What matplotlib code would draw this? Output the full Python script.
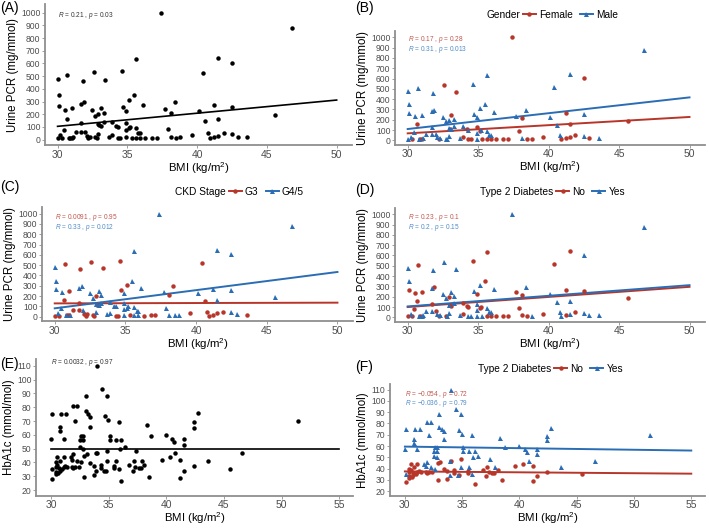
import matplotlib
matplotlib.use('Agg')
import matplotlib.pyplot as plt
from matplotlib.lines import Line2D

plt.rcParams['font.family'] = ['Liberation Sans', 'DejaVu Sans']
plt.rcParams['mathtext.fontset'] = 'custom'
plt.rcParams['mathtext.rm'] = 'Liberation Sans'
plt.rcParams['mathtext.it'] = 'Liberation Sans:italic'

# ---- urine PCR cohort (panels A-D): BMI, PCR, gender, CKD stage, T2D ----
pcr_bmi = [30.0, 30.1, 30.1, 30.0, 30.2, 30.3, 30.45, 30.5, 30.65, 30.7,
           30.8, 30.9, 31.0, 31.1, 31.0, 31.3, 31.7, 31.7, 31.7, 31.8,
           31.9, 32.0, 32.1, 32.2, 32.3, 32.5, 32.6, 32.7, 32.7, 32.8,
           32.9, 32.9, 32.9, 33.0, 33.1, 33.1, 33.3, 33.3, 33.4, 33.7,
           33.9, 33.9, 34.2, 34.3, 34.3, 34.5, 34.6, 34.7, 34.9, 34.9,
           34.9, 35.1, 35.1, 35.2, 34.9, 35.3, 35.5, 35.6, 35.6, 35.6,
           35.8, 35.9, 35.9, 36.1, 36.3, 36.8, 37.1, 37.4, 37.7, 37.9,
           38.1, 38.1, 38.4, 38.5, 38.8, 39.6, 40.1, 40.4, 40.6, 40.8,
           40.9, 41.2, 41.2, 41.5, 41.5, 41.5, 41.9, 42.5, 42.5, 42.5,
           42.9, 43.6, 45.6, 46.8]
pcr_value = [478, 349, 265, 10, 37, 10, 80, 236, 160, 512,
             15, 15, 15, 20, 249, 63, 60, 128, 281, 459,
             299, 60, 29, 10, 24, 231, 533, 184, 18, 10,
             121, 200, 45, 115, 110, 249, 136, 207, 470, 24,
             34, 142, 108, 102, 10, 10, 543, 260, 228, 128,
             76, 312, 89, 102, 18, 12, 349, 633, 92, 15,
             55, 55, 13, 276, 10, 15, 15, 1000, 241, 87,
             214, 21, 299, 15, 18, 34, 228, 522, 150, 50,
             10, 21, 270, 643, 163, 31, 50, 257, 606, 45,
             24, 21, 192, 877]
pcr_gender = ['Male', 'Male', 'Male', 'Male', 'Male', 'Female', 'Male', 'Male', 'Female', 'Male',
              'Male', 'Female', 'Female', 'Male', 'Male', 'Male', 'Male', 'Male', 'Male', 'Male',
              'Male', 'Male', 'Male', 'Female', 'Male', 'Male', 'Female', 'Male', 'Male', 'Male',
              'Male', 'Male', 'Male', 'Female', 'Male', 'Female', 'Male', 'Male', 'Female', 'Male',
              'Female', 'Male', 'Female', 'Male', 'Female', 'Female', 'Male', 'Male', 'Male', 'Female',
              'Male', 'Male', 'Female', 'Male', 'Male', 'Female', 'Male', 'Male', 'Male', 'Female',
              'Male', 'Male', 'Female', 'Male', 'Female', 'Female', 'Female', 'Female', 'Male', 'Female',
              'Female', 'Male', 'Male', 'Female', 'Female', 'Female', 'Male', 'Male', 'Male', 'Male',
              'Female', 'Female', 'Female', 'Male', 'Female', 'Female', 'Female', 'Male', 'Female', 'Male',
              'Female', 'Male', 'Female', 'Male']
pcr_ckd = ['G4/5', 'G4/5', 'G4/5', 'G3', 'G4/5', 'G3', 'G4/5', 'G4/5', 'G3', 'G3',
           'G4/5', 'G3', 'G3', 'G4/5', 'G3', 'G3', 'G3', 'G3', 'G4/5', 'G3',
           'G4/5', 'G4/5', 'G3', 'G3', 'G3', 'G4/5', 'G3', 'G4/5', 'G3', 'G3',
           'G4/5', 'G3', 'G4/5', 'G3', 'G4/5', 'G4/5', 'G4/5', 'G4/5', 'G3', 'G4/5',
           'G4/5', 'G4/5', 'G4/5', 'G4/5', 'G3', 'G3', 'G3', 'G3', 'G4/5', 'G4/5',
           'G4/5', 'G3', 'G4/5', 'G4/5', 'G4/5', 'G3', 'G4/5', 'G4/5', 'G4/5', 'G4/5',
           'G4/5', 'G4/5', 'G4/5', 'G4/5', 'G3', 'G3', 'G3', 'G4/5', 'G4/5', 'G4/5',
           'G3', 'G4/5', 'G3', 'G4/5', 'G4/5', 'G3', 'G4/5', 'G3', 'G3', 'G3',
           'G3', 'G3', 'G4/5', 'G4/5', 'G4/5', 'G3', 'G3', 'G4/5', 'G4/5', 'G4/5',
           'G4/5', 'G3', 'G4/5', 'G4/5']
pcr_t2d = ['Yes', 'Yes', 'No', 'No', 'Yes', 'No', 'No', 'No', 'No', 'No',
           'Yes', 'No', 'Yes', 'Yes', 'No', 'Yes', 'Yes', 'No', 'Yes', 'Yes',
           'No', 'No', 'Yes', 'No', 'Yes', 'Yes', 'Yes', 'Yes', 'No', 'Yes',
           'Yes', 'No', 'Yes', 'No', 'No', 'Yes', 'Yes', 'Yes', 'Yes', 'Yes',
           'No', 'No', 'No', 'No', 'Yes', 'Yes', 'No', 'Yes', 'No', 'Yes',
           'Yes', 'Yes', 'No', 'No', 'Yes', 'Yes', 'No', 'No', 'Yes', 'No',
           'Yes', 'Yes', 'No', 'Yes', 'No', 'No', 'No', 'Yes', 'No', 'No',
           'No', 'No', 'Yes', 'No', 'Yes', 'No', 'Yes', 'No', 'Yes', 'Yes',
           'Yes', 'No', 'No', 'No', 'Yes', 'Yes', 'No', 'No', 'Yes', 'Yes',
           'Yes', 'Yes', 'No', 'Yes']

# ---- HbA1c cohort (panels E-F): BMI, HbA1c, T2D ----
hb_bmi = [34.0, 34.45, 33.0, 34.9, 31.9, 32.3, 30.1, 30.9, 31.3, 33.0,
          33.2, 33.4, 34.7, 34.95, 35.9, 32.1, 30.8, 30.8, 33.4, 40.0,
          38.3, 38.7, 42.75, 42.4, 42.4, 51.4, 30.0, 31.1, 32.6, 32.8,
          32.5, 32.8, 35.1, 35.1, 35.6, 36.1, 36.4, 35.95, 32.5, 32.8,
          40.5, 40.7, 41.5, 41.5, 40.8, 46.6, 31.9, 31.7, 30.5, 31.1,
          33.1, 32.9, 33.9, 34.0, 34.9, 37.4, 39.6, 40.3, 41.2, 43.6,
          30.8, 31.8, 32.3, 32.6, 33.4, 34.9, 35.6, 37.2, 37.9, 30.4,
          30.5, 30.4, 30.7, 31.2, 31.1, 31.4, 31.9, 32.4, 31.8, 32.1,
          33.7, 34.3, 35.5, 36.8, 37.3, 37.8, 37.6, 38.1, 30.1, 30.4,
          30.6, 30.4, 30.75, 30.95, 33.9, 34.3, 34.6, 34.75, 35.9, 37.1,
          35.5, 41.5, 45.5, 30.1, 32.9, 33.7, 38.5, 36.1, 41.2, 42.4]
hb_value = [110, 93, 88, 88, 81, 81, 75, 75, 75, 77,
            75, 73, 74, 71, 69.5, 70, 66, 63, 66, 60,
            67, 59, 76, 69, 65, 70, 57, 57, 59, 59,
            56, 56, 59, 56, 56, 56, 51, 50, 51, 50,
            57, 55, 57, 53, 47, 47, 46, 44, 44, 44,
            46, 45, 47, 47, 48.5, 48.5, 42, 44, 42, 41,
            41, 42, 41, 40, 39.5, 41, 41, 41, 41, 40,
            38.5, 37, 36, 37.5, 37, 37, 36, 37, 37, 37,
            37.5, 38.5, 37.5, 38.5, 37, 36, 35.7, 38.5, 35, 33,
            32.4, 32, 34, 35, 34, 36, 34, 34, 35, 33.6,
            36, 33.6, 35, 28.3, 29.5, 31, 29.5, 26.4, 28.6, 37.4]
hb_t2d = ['Yes'] * 46 + [
    'Yes', 'Yes', 'No', 'No', 'No', 'No', 'Yes', 'No', 'No', 'Yes',
    'No', 'No', 'No', 'Yes', 'No', 'Yes', 'Yes', 'Yes', 'No', 'Yes',
    'Yes', 'No', 'Yes', 'No', 'No', 'No', 'No', 'No', 'No', 'No',
    'No', 'No', 'No', 'No', 'No', 'No', 'No', 'No', 'No', 'No',
    'No', 'No', 'Yes', 'No', 'No', 'No', 'No', 'No', 'Yes', 'No',
    'Yes', 'No', 'Yes', 'No', 'No', 'No', 'No', 'No', 'No', 'No',
    'No', 'No', 'No', 'No']

# ---- regression lines (values at the ends of the x range) and stats ----
fit_x_pcr = [30, 50]
fit_x_hb = [30, 55]
fit_a = [105, 312]
fit_b = {'Female': [68, 227], 'Male': [110, 417]}
fit_c = {'G3': [129, 136], 'G4/5': [81, 434]}
fit_d = {'No': [100, 296], 'Yes': [106, 312]}
fit_e = [49.5, 49.5]
fit_f = {'No': [37.5, 35.5], 'Yes': [59.5, 56]}
stat_a = ('0.21', '0.03')
stat_b = [('0.17', '0.28'), ('0.31', '0.013')]
stat_c = [('0.0091', '0.95'), ('0.33', '0.012')]
stat_d = [('0.23', '0.1'), ('0.2', '0.15')]
stat_e = ('0.0032', '0.97')
stat_f = [('\u22120.054', '0.72'), ('\u22120.036', '0.79')]

RED = '#b8352a'
BLUE = '#2a6db5'
RED_TXT = '#c2554c'
BLUE_TXT = '#4f8bc9'
W, H = 709, 530

fig = plt.figure(figsize=(W / 100, H / 100), dpi=100)


def add_ax(left, top, right, bottom):
    return fig.add_axes([left / W, 1 - bottom / H, (right - left) / W, (bottom - top) / H])


def style(ax, ylabel, hb=False):
    for s in ['top', 'right']:
        ax.spines[s].set_visible(False)
    for s in ['left', 'bottom']:
        ax.spines[s].set_color('#8f8f8f')
        ax.spines[s].set_linewidth(1.3)
    ax.tick_params(axis='both', length=2, width=0.6, color='#8f8f8f', labelcolor='#4d4d4d', pad=1.2)
    ax.tick_params(axis='x', labelsize=7.5)
    ax.tick_params(axis='y', labelsize=6.2)
    if hb:
        ax.set_xlim(28.7, 56.2)
        ax.set_xticks([30, 35, 40, 45, 50, 55])
        ax.set_ylim(15.7, 115)
        ax.set_yticks(range(20, 111, 10))
    else:
        ax.set_xlim(29.1, 51.1)
        ax.set_xticks([30, 35, 40, 45, 50])
        ax.set_ylim(-45, 1065)
        ax.set_yticks(range(0, 1001, 100))
    ax.set_xlabel('BMI (kg/m$^2$)', fontsize=8.2, labelpad=0)
    ax.set_ylabel(ylabel, fontsize=8.3, labelpad=1.5)


def stat_text(ax, x, y, r, p, color):
    ax.text(x, y, '$R$ = %s , $p$ = %s' % (r, p), fontsize=4.7, color=color, ha='left', va='center')


def groups(ax, x, y, labels, order):
    for name, col, mk in zip(order, [RED, BLUE], ['o', '^']):
        xs = [a for a, g in zip(x, labels) if g == name]
        ys = [b for b, g in zip(y, labels) if g == name]
        ax.plot(xs, ys, mk, color=col, ms=3.2 if mk == 'o' else 3.6, mew=0, zorder=3)


def top_legend(title, names, x_px, y_px):
    t = fig.text(x_px / W, 1 - y_px / H, title, fontsize=7.3, ha='left', va='center')
    fig.canvas.draw()
    bb = t.get_window_extent()
    handles = [Line2D([], [], color=RED, lw=1.4, marker='o', ms=3.2, mew=0),
               Line2D([], [], color=BLUE, lw=1.4, marker='^', ms=3.6, mew=0)]
    fig.legend(handles, names, loc='center left', bbox_to_anchor=(bb.x1 / W + 0.004, 1 - y_px / H),
               ncol=2, frameon=False, fontsize=7.3, handlelength=1.3, handletextpad=0.3,
               columnspacing=0.7, borderaxespad=0, borderpad=0)


# (A)
ax = add_ax(45, 4.4, 352, 145.4)
ax.plot(pcr_bmi, pcr_value, 'o', color='black', ms=3.2, mew=0, zorder=3)
ax.plot(fit_x_pcr, fit_a, color='black', lw=1.2)
stat_text(ax, 30, 975, stat_a[0], stat_a[1], '#333333')
style(ax, 'Urine PCR (mg/mmol)')

# (B)
ax = add_ax(395, 30.6, 705, 145)
groups(ax, pcr_bmi, pcr_value, pcr_gender, ['Female', 'Male'])
ax.plot(fit_x_pcr, fit_b['Female'], color=RED, lw=1.4)
ax.plot(fit_x_pcr, fit_b['Male'], color=BLUE, lw=1.4)
stat_text(ax, 30, 980, stat_b[0][0], stat_b[0][1], RED_TXT)
stat_text(ax, 30, 885, stat_b[1][0], stat_b[1][1], BLUE_TXT)
style(ax, 'Urine PCR (mg/mmol)')
top_legend('Gender', ['Female', 'Male'], 486, 15)

# (C)
ax = add_ax(42, 207, 353, 321.3)
groups(ax, pcr_bmi, pcr_value, pcr_ckd, ['G3', 'G4/5'])
ax.plot(fit_x_pcr, fit_c['G3'], color=RED, lw=1.4)
ax.plot(fit_x_pcr, fit_c['G4/5'], color=BLUE, lw=1.4)
stat_text(ax, 30, 965, stat_c[0][0], stat_c[0][1], RED_TXT)
stat_text(ax, 30, 870, stat_c[1][0], stat_c[1][1], BLUE_TXT)
style(ax, 'Urine PCR (mg/mmol)')
top_legend('CKD Stage', ['G3', 'G4/5'], 175, 192)

# (D)
ax = add_ax(395, 207.5, 705, 322)
groups(ax, pcr_bmi, pcr_value, pcr_t2d, ['No', 'Yes'])
ax.plot(fit_x_pcr, fit_d['No'], color=RED, lw=1.4)
ax.plot(fit_x_pcr, fit_d['Yes'], color=BLUE, lw=1.4)
stat_text(ax, 30, 965, stat_d[0][0], stat_d[0][1], RED_TXT)
stat_text(ax, 30, 870, stat_d[1][0], stat_d[1][1], BLUE_TXT)
style(ax, 'Urine PCR (mg/mmol)')
top_legend('Type 2 Diabetes', ['No', 'Yes'], 480, 192)

# (E)
ax = add_ax(36, 359, 353, 496)
ax.plot(hb_bmi, hb_value, 'o', color='black', ms=3.2, mew=0, zorder=3)
ax.plot(fit_x_hb, fit_e, color='black', lw=1.2)
stat_text(ax, 30, 112.5, stat_e[0], stat_e[1], '#333333')
style(ax, 'HbA1c (mmol/mol)', hb=True)

# (F)
ax = add_ax(390, 384, 705, 496)
groups(ax, hb_bmi, hb_value, hb_t2d, ['No', 'Yes'])
ax.plot(fit_x_hb, fit_f['No'], color=RED, lw=1.4)
ax.plot(fit_x_hb, fit_f['Yes'], color=BLUE, lw=1.4)
stat_text(ax, 30, 106, stat_f[0][0], stat_f[0][1], RED_TXT)
stat_text(ax, 30, 97.5, stat_f[1][0], stat_f[1][1], BLUE_TXT)
style(ax, 'HbA1c (mmol/mol)', hb=True)
top_legend('Type 2 Diabetes', ['No', 'Yes'], 478, 369)

# panel tags
for tag, x, y in [('(A)', 0, 8), ('(B)', 355, 8), ('(C)', 0, 187),
                  ('(D)', 355, 190), ('(E)', 0, 364), ('(F)', 355, 367)]:
    fig.text(x / W, 1 - y / H, tag, fontsize=10, ha='left', va='center')

fig.savefig('out.png', dpi=100)
